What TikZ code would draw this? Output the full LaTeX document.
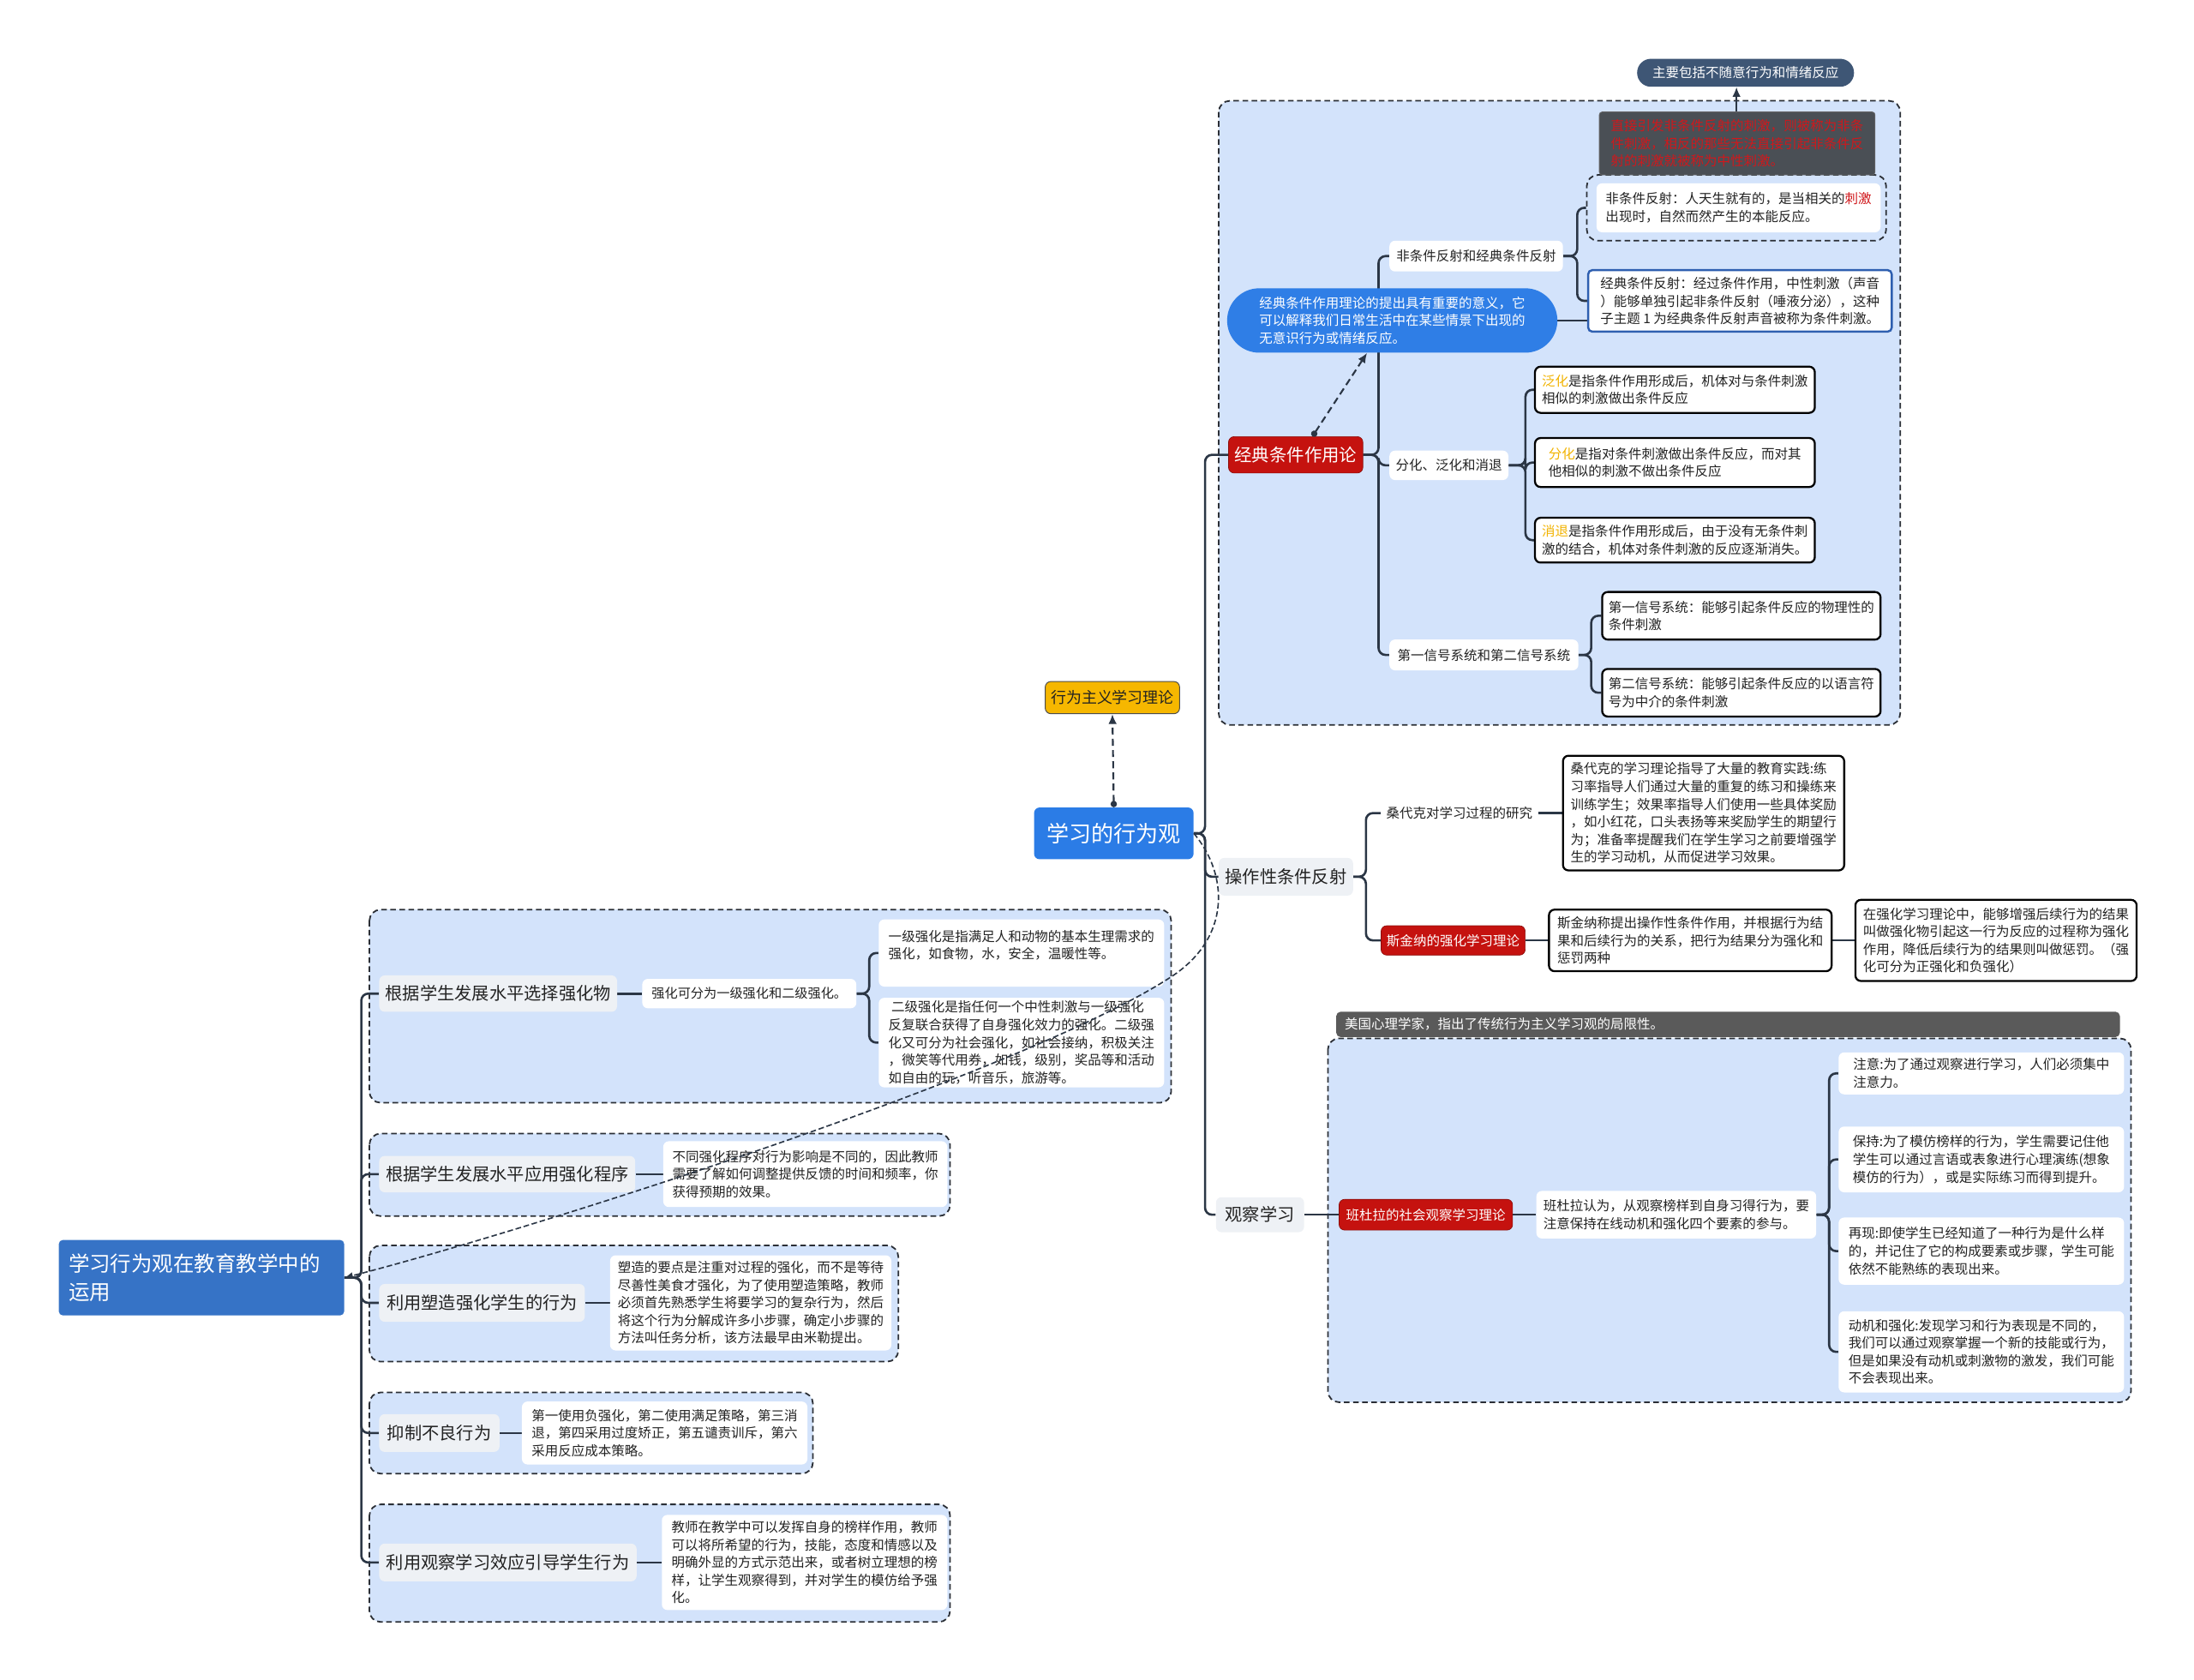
\documentclass[tikz,border=0pt]{standalone}
\usepackage{fontspec}
\setmainfont{Noto Sans CJK SC}
\usetikzlibrary{arrows.meta,calc}
\pgfdeclarelayer{contl}\pgfdeclarelayer{connl}
\pgfsetlayers{contl,connl,main}
\definecolor{lineC}{HTML}{2B3645}
\definecolor{contB}{HTML}{2B2F36}
\definecolor{contF}{HTML}{D3E3FB}
\definecolor{grayN}{HTML}{EEF1F5}
\definecolor{redN}{HTML}{C5120F}
\definecolor{blueC}{HTML}{2B7CE6}
\definecolor{blueRoot}{HTML}{3673C6}
\definecolor{blueOval}{HTML}{2F7EE6}
\definecolor{yelN}{HTML}{F6B700}
\definecolor{slateN}{HTML}{3E5675}
\definecolor{calloutN}{HTML}{4A4F55}
\definecolor{calloutT}{HTML}{D0181C}
\definecolor{headerN}{HTML}{5A5A5A}
\definecolor{orT}{HTML}{F2B300}
\definecolor{redT}{HTML}{D0181C}
\definecolor{blueB}{HTML}{2E5FB0}
\definecolor{txt}{HTML}{222222}
\newcommand\fsz[2]{\fontsize{#1}{#2}\selectfont}
\begin{document}
\begin{tikzpicture}[x=1pt,y=-1pt,
  conn/.style={draw=lineC, line width=1.6pt, rounded corners=5pt},
  cont/.style={draw=contB, fill=contF, line width=1.1pt, dash pattern=on 4pt off 2.5pt, rounded corners=8pt},
  base/.style={rectangle, inner sep=0pt, align=left, text=txt, font=\fsz{9.5}{12.6}},
  whiten/.style={base, fill=white, rounded corners=4pt},
  blackbox/.style={base, fill=white, draw=black, line width=1.4pt, rounded corners=4pt},
  grayn/.style={base, fill=grayN, rounded corners=4pt, font=\fsz{12.4}{14}},
  redn/.style={base, fill=redN, text=white, rounded corners=4pt, draw=redN!70!black, line width=0.4pt},
  dline/.style={draw=lineC, line width=1.3pt, dash pattern=on 5pt off 3pt, {Circle[length=4.5pt]}-{Latex[length=7pt,width=6pt]}}
]
\useasboundingbox (0,0) rectangle (1568,1200);

% ---------- containers ----------
\begin{pgfonlayer}{contl}
\draw[cont] (871,72) rectangle (1358,518);
\node[cont, minimum width=214pt, minimum height=47pt] (sub) at (1241,148.5) {};
\draw[cont] (949,742) rectangle (1523,1002);
\draw[cont] (264,650) rectangle (837,788);
\draw[cont] (264,810) rectangle (679,869);
\draw[cont] (264,890) rectangle (642,973);
\draw[cont] (264,995) rectangle (581,1053);
\draw[cont] (264,1075) rectangle (679,1159);
\end{pgfonlayer}

% ---------- central ----------
\node[base, fill=blueC, text=white, rounded corners=4pt, minimum width=114pt, minimum height=37pt, font=\fsz{16}{18}] (central) at (796,595.5) {学习的行为观};
\node[base, fill=yelN, draw=black!70, line width=0.6pt, rounded corners=4pt, minimum width=96pt, minimum height=23pt, font=\fsz{11}{13}] (yellow) at (795,498.5) {行为主义学习理论};

% ---------- classical ----------
\node[redn, minimum width=96pt, minimum height=26pt, font=\fsz{12.5}{14}] (jd) at (926,325) {经典条件作用论};
\node[whiten, minimum width=124pt, minimum height=22pt] (fj) at (1055,183) {非条件反射和经典条件反射};
\node[whiten, minimum width=85pt, minimum height=21pt] (fh) at (1035.5,332.5) {分化、泛化和消退};
\node[whiten, minimum width=135pt, minimum height=22pt] (dx) at (1060.5,468) {第一信号系统和第二信号系统};
\node[base, fill=blueOval, text=white, rounded corners=22.9pt, minimum width=236pt, minimum height=46pt] (oval) at (995,229) {经典条件作用理论的提出具有重要的意义，它\\可以解释我们日常生活中在某些情景下出现的\\无意识行为或情绪反应。};
\node[whiten, minimum width=203pt, minimum height=35pt] (fjb) at (1242.5,148.5) {非条件反射：人天生就有的，是当相关的\textcolor{redT}{刺激}\\出现时，自然而然产生的本能反应。};
\node[base, fill=white, draw=blueB, line width=1.5pt, rounded corners=3pt, minimum width=217pt, minimum height=44pt] (jdfs) at (1243.5,215) {经典条件反射：经过条件作用，中性刺激（声音\\）能够单独引起非条件反射（唾液分泌），这种\\子主题 1 为经典条件反射声音被称为条件刺激。};
\node[base, fill=calloutN, text=calloutT, draw=black!60, line width=0.5pt, rounded corners=2pt, minimum width=197pt, minimum height=45pt] (callout) at (1241.5,102.5) {直接引发非条件反射的刺激，则被称为非条\\件刺激，相反的那些无法直接引起非条件反\\射的刺激就被称为中性刺激。};
\node[base, fill=slateN, text=white, rounded corners=9.9pt, minimum width=155pt, minimum height=20pt] (zhuyao) at (1247.5,52) {主要包括不随意行为和情绪反应};
\node[blackbox, minimum width=200pt, minimum height=33pt] (fanhua) at (1197,278.5) {\textcolor{orT}{泛化}是指条件作用形成后，机体对与条件刺激\\相似的刺激做出条件反应};
\node[blackbox, minimum width=200pt, minimum height=35pt] (fenhua) at (1197,330.5) {\textcolor{orT}{分化}是指对条件刺激做出条件反应，而对其\\他相似的刺激不做出条件反应};
\node[blackbox, minimum width=200pt, minimum height=32pt] (xiaotui) at (1197,386) {\textcolor{orT}{消退}是指条件作用形成后，由于没有无条件刺\\激的结合，机体对条件刺激的反应逐渐消失。};
\node[blackbox, minimum width=199pt, minimum height=34pt] (xh1) at (1244.5,440) {第一信号系统：能够引起条件反应的物理性的\\条件刺激};
\node[blackbox, minimum width=199pt, minimum height=34pt] (xh2) at (1244.5,495) {第二信号系统：能够引起条件反应的以语言符\\号为中介的条件刺激};

% ---------- operant ----------
\node[grayn, minimum width=96pt, minimum height=27pt] (czx) at (919,626.5) {操作性条件反射};
\node[whiten, minimum width=112pt, minimum height=20pt] (sdk) at (1043,581) {桑代克对学习过程的研究};
\node[blackbox, minimum width=201pt, minimum height=82pt] (sdkd) at (1217.5,581) {桑代克的学习理论指导了大量的教育实践:练\\习率指导人们通过大量的重复的练习和操练来\\训练学生；效果率指导人们使用一些具体奖励\\，如小红花，口头表扬等来奖励学生的期望行\\为；准备率提醒我们在学生学习之前要增强学\\生的学习动机，从而促进学习效果。};
\node[redn, minimum width=103pt, minimum height=21pt] (skn) at (1038.5,672) {斯金纳的强化学习理论};
\node[blackbox, minimum width=202pt, minimum height=44pt] (sknd) at (1208,672) {斯金纳称提出操作性条件作用，并根据行为结\\果和后续行为的关系，把行为结果分为强化和\\惩罚两种};
\node[blackbox, minimum width=201pt, minimum height=58pt] (qhd) at (1426.5,672) {在强化学习理论中，能够增强后续行为的结果\\叫做强化物引起这一行为反应的过程称为强化\\作用，降低后续行为的结果则叫做惩罚。（强\\化可分为正强化和负强化）};

% ---------- observation ----------
\node[grayn, minimum width=63pt, minimum height=25pt] (gcxx) at (900.5,868) {观察学习};
\node[base, fill=headerN, text=white, rounded corners=3pt, text width=548pt, inner xsep=6pt, minimum height=18pt] (header) at (1235,732) {美国心理学家，指出了传统行为主义学习观的局限性。};
\node[redn, minimum width=124pt, minimum height=22pt] (bdl) at (1019,868) {班杜拉的社会观察学习理论};
\node[whiten, minimum width=200pt, minimum height=34pt] (bdld) at (1198,868) {班杜拉认为，从观察榜样到自身习得行为，要\\注意保持在线动机和强化四个要素的参与。};
\node[whiten, minimum width=204pt, minimum height=30pt] (zy) at (1416,767) {注意:为了通过观察进行学习，人们必须集中\\注意力。};
\node[whiten, minimum width=204pt, minimum height=47pt] (bc) at (1416,828.5) {保持:为了模仿榜样的行为，学生需要记住他\\学生可以通过言语或表象进行心理演练(想象\\模仿的行为），或是实际练习而得到提升。};
\node[whiten, minimum width=204pt, minimum height=48pt] (zx) at (1416,894) {再现:即使学生已经知道了一种行为是什么样\\的，并记住了它的构成要素或步骤，学生可能\\依然不能熟练的表现出来。};
\node[whiten, minimum width=204pt, minimum height=58pt] (dj) at (1416,966) {动机和强化:发现学习和行为表现是不同的，\\我们可以通过观察掌握一个新的技能或行为，\\但是如果没有动机或刺激物的激发，我们可能\\不会表现出来。};

% ---------- left root ----------
\node[base, fill=blueRoot, text=white, rounded corners=3pt, text width=190pt, inner xsep=7pt, minimum height=54pt, font=\fsz{15}{20}] (root) at (144,913) {学习行为观在教育教学中的\\运用};
\node[grayn, minimum width=170pt, minimum height=26pt] (L1) at (356,710) {根据学生发展水平选择强化物};
\node[whiten, minimum width=153pt, minimum height=21pt, font=\fsz{9.3}{12}] (L1a) at (535.5,710) {强化可分为一级强化和二级强化。};
\node[whiten, minimum width=204pt, minimum height=48pt] (L1b) at (730,681) {一级强化是指满足人和动物的基本生理需求的\\强化，如食物，水，安全，温暖性等。\\[-2pt]\rule{0pt}{12pt}};
\node[whiten, minimum width=204pt, minimum height=64pt] (L1c) at (730,745) {\ 二级强化是指任何一个中性刺激与一级强化\\反复联合获得了自身强化效力的强化。二级强\\化又可分为社会强化，如社会接纳，积极关注\\，微笑等代用券，如钱，级别，奖品等和活动\\如自由的玩，听音乐，旅游等。};
\node[grayn, minimum width=183pt, minimum height=26pt] (L2) at (362.5,839) {根据学生发展水平应用强化程序};
\node[whiten, minimum width=203pt, minimum height=47pt] (L2a) at (575.5,839) {不同强化程序对行为影响是不同的，因此教师\\需要了解如何调整提供反馈的时间和频率，你\\获得预期的效果。};
\node[grayn, minimum width=147pt, minimum height=27pt] (L3) at (344.5,931) {利用塑造强化学生的行为};
\node[whiten, minimum width=201pt, minimum height=68pt] (L3a) at (536.5,931) {塑造的要点是注重对过程的强化，而不是等待\\尽善性美食才强化，为了使用塑造策略，教师\\必须首先熟悉学生将要学习的复杂行为，然后\\将这个行为分解成许多小步骤，确定小步骤的\\方法叫任务分析，该方法最早由米勒提出。};
\node[grayn, minimum width=86pt, minimum height=27pt] (L4) at (314,1024) {抑制不良行为};
\node[whiten, minimum width=204pt, minimum height=45pt] (L4a) at (475,1024) {第一使用负强化，第二使用满足策略，第三消\\退，第四采用过度矫正，第五谴责训斥，第六\\采用反应成本策略。};
\node[grayn, minimum width=184pt, minimum height=27pt] (L5) at (363,1116.5) {利用观察学习效应引导学生行为};
\node[whiten, minimum width=204pt, minimum height=68pt] (L5a) at (575,1116.5) {教师在教学中可以发挥自身的榜样作用，教师\\可以将所希望的行为，技能，态度和情感以及\\明确外显的方式示范出来，或者树立理想的榜\\样，让学生观察得到，并对学生的模仿给予强\\化。};

% ---------- connectors ----------
\begin{pgfonlayer}{connl}
\draw[conn] (central.east) -- ++(8,0) |- (jd.west);
\draw[conn] (central.east) -- ++(8,0) |- (czx.west);
\draw[conn] (central.east) -- ++(8,0) |- (gcxx.west);
\draw[conn] (jd.east) -- ++(11,0) |- (fj.west);
\draw[conn] (jd.east) -- ++(11,0) |- (fh.west);
\draw[conn] (jd.east) -- ++(11,0) |- (dx.west);
\draw[conn] (fj.east) -- ++(10,0) |- (sub.west);
\draw[conn] (fj.east) -- ++(10,0) |- (jdfs.west);
\draw[conn] (oval.east) -- (jdfs.west |- oval.east);
\draw[conn] (fh.east) -- ++(12,0) |- (fanhua.west);
\draw[conn] (fh.east) -- ++(12,0) |- (fenhua.west);
\draw[conn] (fh.east) -- ++(12,0) |- (xiaotui.west);
\draw[conn] (dx.east) -- ++(9,0) |- (xh1.west);
\draw[conn] (dx.east) -- ++(9,0) |- (xh2.west);
\draw[draw=lineC, line width=1.3pt, {Circle[length=4.5pt]}-{Latex[length=7pt,width=6pt]}] (sub.north) -- (sub.north |- zhuyao.south);
\draw[conn] (czx.east) -- ++(9,0) |- (sdk.west);
\draw[conn] (czx.east) -- ++(9,0) |- (skn.west);
\draw[conn] (sdk.east) -- (sdkd.west);
\draw[conn] (skn.east) -- (sknd.west);
\draw[conn] (sknd.east) -- (qhd.west);
\draw[conn] (gcxx.east) -- (bdl.west);
\draw[conn] (bdl.east) -- (bdld.west);
\draw[conn] (bdld.east) -- ++(9,0) |- (zy.west);
\draw[conn] (bdld.east) -- ++(9,0) |- (bc.west);
\draw[conn] (bdld.east) -- ++(9,0) |- (zx.west);
\draw[conn] (bdld.east) -- ++(9,0) |- (dj.west);
\draw[conn] (root.east) -- ++(12,0) |- (L1.west);
\draw[conn] (root.east) -- ++(12,0) |- (L2.west);
\draw[conn] (root.east) -- ++(12,0) |- (L3.west);
\draw[conn] (root.east) -- ++(12,0) |- (L4.west);
\draw[conn] (root.east) -- ++(12,0) |- (L5.west);
\draw[conn] (L1.east) -- (L1a.west);
\draw[conn] (L1a.east) -- ++(9,0) |- (L1b.west);
\draw[conn] (L1a.east) -- ++(9,0) |- (L1c.west);
\draw[conn] (L2.east) -- (L2a.west);
\draw[conn] (L3.east) -- (L3a.west);
\draw[conn] (L4.east) -- (L4a.west);
\draw[conn] (L5.east) -- (L5a.west);
\end{pgfonlayer}

% ---------- dashed relations ----------
\draw[dline] (central.north) -- (yellow.south);
\draw[dline] ([xshift=12pt]jd.north) -- ([xshift=-18pt]oval.south);
\draw[draw=lineC, line width=1pt, dash pattern=on 4pt off 2pt, -{Latex[length=6pt,width=5pt]}] (central.east) .. controls (878,625) and (880,670) .. (837,698) .. controls (730,768) and (368,882) .. (root.east);
\end{tikzpicture}
\end{document}
